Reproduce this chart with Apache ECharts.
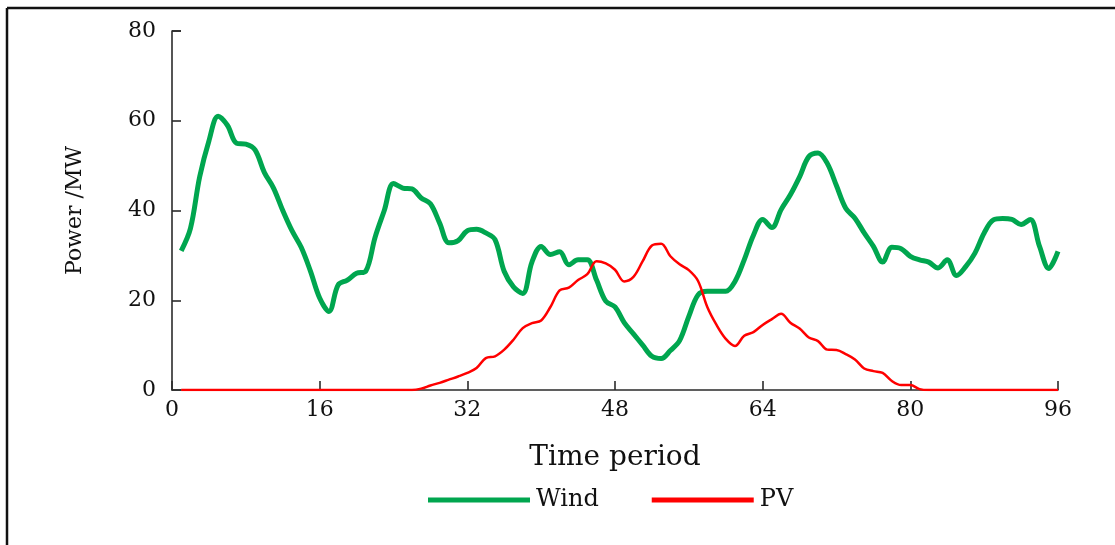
<!DOCTYPE html>
<html>
<head>
<meta charset="utf-8">
<title>Wind and PV power</title>
<script src="https://cdn.jsdelivr.net/npm/echarts@6/dist/echarts.min.js"></script>
<style>
  html, body { margin: 0; padding: 0; background: #ffffff; }
  #chart { width: 1115px; height: 545px; }
</style>
</head>
<body>
<div id="chart"></div>
<script>
// Output of each source per time period (1..96), MW
const windPower = [
  31, 36, 47.5, 55.5, 61, 59, 55, 54.8, 53.5, 48.5,
  45, 40, 35.5, 31.8, 26.5, 20.5, 17.5, 23.4, 24.5, 26,
  26.5, 34, 40, 46, 45, 44.8, 42.8, 41.5, 37.2, 32.8,
  33.3, 35.5, 35.8, 35, 33.5, 26.4, 23, 21.5, 28.5, 32,
  30.2, 30.8, 27.9, 29, 29, 24.5, 19.8, 18.5, 15, 12.5,
  10, 7.5, 7, 8.8, 11, 16.4, 21.2, 22, 22, 22,
  24.2, 29, 34.5, 38, 36.2, 40.2, 43.5, 47.5, 52, 52.8,
  50.5, 45.5, 40.5, 38.3, 35, 32, 28.5, 31.8, 31.5, 29.8,
  29, 28.5, 27.2, 29, 25.5, 27.5, 30.5, 35, 37.9, 38.2,
  38, 36.9, 38, 32, 27.1, 30.9
];
const pvPower = [
  0, 0, 0, 0, 0, 0, 0, 0, 0, 0,
  0, 0, 0, 0, 0, 0, 0, 0, 0, 0,
  0, 0, 0, 0, 0, 0, 0.3, 1.0, 1.6, 2.3,
  3.0, 3.8, 4.9, 7.1, 7.5, 9.0, 11.2, 13.8, 14.9, 15.5,
  18.5, 22.2, 22.8, 24.5, 25.8, 28.7, 28.2, 26.8, 24.2, 25.2,
  28.7, 32.2, 32.6, 29.8, 28, 26.7, 24.3, 18.5, 14.5, 11.4,
  9.8, 12.1, 12.9, 14.5, 15.8, 17, 15, 13.7, 11.7, 10.9,
  9, 8.9, 8, 6.8, 4.8, 4.2, 3.8, 2, 1.1, 1.1,
  0.2, 0, 0, 0, 0, 0, 0, 0, 0, 0,
  0, 0, 0, 0, 0, 0
];
const seriesNames = ['Wind', 'PV'];
const xTicks = [0, 16, 32, 48, 64, 80, 96];
const yTicks = [0, 20, 40, 60, 80];

const toPairs = arr => arr.map((v, i) => [i + 1, v]);

const FONT = '"DejaVu Serif", "Liberation Serif", serif';
const AXIS_COLOR = '#2b2b2b';
const WIND_COLOR = '#00a64f';
const PV_COLOR = '#ff0000';

const chart = echarts.init(document.getElementById('chart'));
chart.setOption({
  animation: false,
  backgroundColor: '#ffffff',
  textStyle: { fontFamily: FONT, color: '#111' },
  grid: { left: 172, right: 57, top: 31, bottom: 155, containLabel: false },
  xAxis: {
    type: 'value',
    min: xTicks[0],
    max: xTicks[xTicks.length - 1],
    interval: xTicks[1] - xTicks[0],
    name: 'Time period',
    nameLocation: 'middle',
    nameGap: 54,
    nameTextStyle: { fontFamily: FONT, fontSize: 28, color: '#111' },
    axisLine: { onZero: false, lineStyle: { color: AXIS_COLOR, width: 1.6 } },
    axisTick: { inside: true, length: 9, lineStyle: { color: AXIS_COLOR, width: 1.6 } },
    axisLabel: { fontFamily: FONT, fontSize: 22, color: '#111', margin: 9 },
    splitLine: { show: false }
  },
  yAxis: {
    type: 'value',
    min: yTicks[0],
    max: yTicks[yTicks.length - 1],
    interval: yTicks[1] - yTicks[0],
    name: 'Power /MW',
    nameLocation: 'middle',
    nameGap: 86,
    nameRotate: 90,
    nameTextStyle: { fontFamily: FONT, fontSize: 22, color: '#111' },
    axisLine: { show: true, lineStyle: { color: AXIS_COLOR, width: 1.6 } },
    axisTick: { show: true, inside: true, length: 9, lineStyle: { color: AXIS_COLOR, width: 1.6 } },
    axisLabel: { fontFamily: FONT, fontSize: 22, color: '#111', margin: 16 },
    splitLine: { show: false }
  },
  legend: {
    left: 423,
    top: 483,
    icon: 'rect',
    itemWidth: 102,
    itemHeight: 5,
    itemGap: 53,
    textStyle: { fontFamily: FONT, fontSize: 24, color: '#111', padding: [0, 0, 0, 1] },
    data: seriesNames
  },
  series: [
    {
      name: seriesNames[0],
      type: 'line',
      data: toPairs(windPower),
      smooth: 0.35,
      showSymbol: false,
      symbol: 'none',
      lineStyle: { color: WIND_COLOR, width: 5 },
      itemStyle: { color: WIND_COLOR }
    },
    {
      name: seriesNames[1],
      type: 'line',
      data: toPairs(pvPower),
      smooth: 0.35,
      showSymbol: false,
      symbol: 'none',
      lineStyle: { color: PV_COLOR, width: 2.5 },
      itemStyle: { color: PV_COLOR }
    }
  ],
  graphic: [
    // figure frame: top and left rules
    { type: 'line', shape: { x1: 7, y1: 8, x2: 1115, y2: 8 }, style: { stroke: '#111', lineWidth: 2.5 }, silent: true },
    { type: 'line', shape: { x1: 7, y1: 8, x2: 7, y2: 545 }, style: { stroke: '#111', lineWidth: 2.5 }, silent: true },
    // short cap at the top of the value axis
    { type: 'line', shape: { x1: 172, y1: 31, x2: 181, y2: 31 }, style: { stroke: AXIS_COLOR, lineWidth: 1.6 }, silent: true }
  ]
});
</script>
</body>
</html>
